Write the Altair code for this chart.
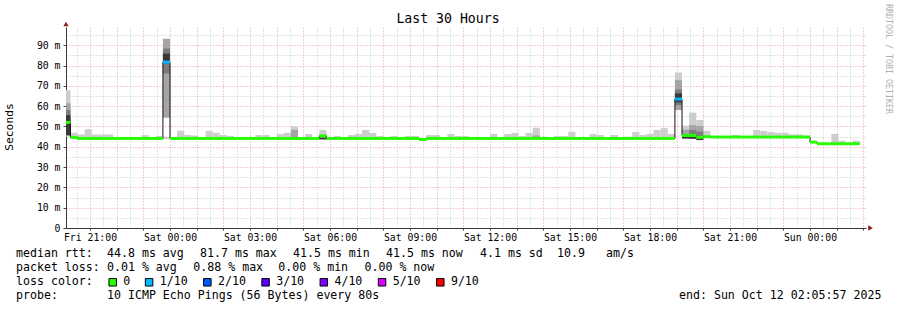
import altair as alt
import pandas as pd

MONO = "DejaVu Sans Mono"

# ---------------- data ----------------
# time axis: hours since Fri 00:00; 30 hour window ending Sun 02:05:57
VIEW_START_H = 20 + 5 / 60 + 57 / 3600
VIEW_END_H = VIEW_START_H + 30
FIRST_BIN_H = 20.0          # consolidated rows (16 min = 12 x 80 s) start Fri 20:00
BIN_H = 16 / 60

# median rtt per 16-minute row (ms)
median_ms = [
    52.0, 44.6, 44.1, 44.1, 44.1, 44.1, 44.1, 44.1, 44.1, 44.1, 44.1, 44.1, 44.1, 44.1, 81.7, 44.1,
    44.1, 44.1, 44.1, 44.1, 44.1, 44.1, 44.1, 44.1, 44.1, 44.1, 44.1, 44.1, 44.1, 44.1, 44.1, 44.1,
    44.1, 44.1, 44.1, 44.1, 45.4, 44.1, 44.1, 44.1, 44.1, 44.1, 44.1, 44.1, 44.1, 44.1, 44.1, 44.1,
    44.1, 44.1, 43.6, 44.1, 44.1, 44.1, 44.1, 44.1, 44.1, 44.1, 44.1, 44.1, 44.1, 44.1, 44.1, 44.1,
    44.1, 44.1, 44.1, 44.1, 44.1, 44.1, 44.1, 44.1, 44.1, 44.1, 44.1, 44.1, 44.1, 44.1, 44.1, 44.1,
    44.1, 44.1, 44.1, 44.1, 44.1, 44.1, 63.5, 45.6, 45.6, 44.7, 45.0, 44.8, 44.8, 44.8, 44.8, 44.8,
    44.8, 44.8, 44.8, 44.8, 44.8, 44.8, 44.8, 44.8, 44.8, 42.3, 41.5, 41.5, 41.5, 41.5, 41.5, 41.5,
]

# rows with lost pings (count out of 10)
loss_rows = [14, 86]
loss_counts = [1, 1]

# smoke bands: row, low (ms), high (ms), shade level (0 light .. 3 dark)
smoke_row = [0, 0, 0, 0, 1, 2, 3, 4, 5, 6, 11, 13, 14, 14, 14, 14, 16, 17, 18, 20, 21, 22, 23,
             27, 28, 30, 31, 32, 32, 34, 36, 36, 38, 40, 41, 42, 43, 44, 46, 48, 49, 51, 52,
             54, 55, 56, 60, 62, 63, 64, 65, 66, 66, 67, 69, 70, 71, 74, 75, 77, 79, 80, 81,
             82, 83, 84, 85, 86, 86, 86, 86, 87, 87, 87, 88, 88, 88, 88, 89, 89, 89, 89, 90,
             94, 97, 98, 99, 100, 101, 102, 103, 104, 108, 109, 111]
smoke_lo = [45.0, 45.3, 45.6, 45.8, 44.0, 43.8, 43.8, 43.8, 43.8, 43.8, 43.8, 43.8, 43.8, 54.3, 76.1, 81.0,
            43.8, 43.8, 43.8, 43.8, 43.8, 43.8, 43.8, 43.8, 43.8, 43.8, 43.8, 43.8, 43.8, 43.8, 43.8, 43.6,
            43.8, 43.8, 43.8, 43.8, 43.8, 43.8, 43.8, 43.8, 43.8, 43.8, 43.8, 43.8, 43.8, 43.8, 43.8, 43.8,
            43.8, 43.8, 43.8, 43.8, 43.8, 43.8, 43.8, 43.8, 43.8, 43.8, 43.8, 43.8, 43.8, 43.8, 43.8, 43.8,
            43.8, 43.8, 43.8, 58.1, 58.1, 60.5, 61.9, 44.3, 44.5, 44.0, 44.3, 44.5, 44.8, 43.9, 43.5, 44.0,
            44.3, 43.3, 44.3, 44.5, 44.5, 44.5, 44.5, 44.5, 44.5, 44.5, 44.5, 44.5, 41.2, 41.2, 41.2]
smoke_hi = [67.9, 61.4, 58.1, 55.6, 46.9, 46.1, 48.7, 46.1, 46.1, 46.1, 45.8, 45.3, 44.9, 93.2, 88.4, 85.9,
            47.9, 45.8, 45.5, 47.8, 46.9, 45.8, 45.3, 45.8, 45.8, 46.3, 46.9, 49.9, 48.3, 46.3, 48.3, 44.6,
            45.3, 45.8, 46.3, 48.3, 46.8, 45.3, 45.3, 45.3, 45.3, 45.8, 45.8, 46.3, 45.3, 45.3, 46.3, 46.3,
            46.8, 45.3, 46.8, 49.4, 45.6, 45.0, 45.3, 45.3, 47.4, 46.3, 45.8, 45.8, 45.0, 47.3, 45.8, 46.3,
            48.3, 49.2, 46.3, 76.6, 72.8, 68.2, 66.3, 50.4, 48.3, 45.0, 56.8, 50.7, 48.3, 45.0, 53.2, 50.2,
            47.5, 44.5, 47.9, 45.8, 48.3, 47.8, 47.3, 46.9, 46.9, 46.1, 46.1, 45.5, 46.3, 43.0, 43.0]
smoke_level = [0, 1, 2, 3, 0, 0, 0, 0, 0, 0, 0, 0, 0, 1, 2, 3,
               0, 0, 0, 0, 0, 0, 0, 0, 0, 0, 0, 0, 1, 0, 0, 3,
               0, 0, 0, 0, 0, 0, 0, 0, 0, 0, 0, 0, 0, 0, 0, 0,
               0, 0, 0, 0, 1, 0, 0, 0, 0, 0, 0, 0, 0, 0, 0, 0,
               0, 0, 0, 0, 1, 2, 3, 0, 1, 3, 0, 1, 2, 3, 0, 1,
               2, 3, 0, 0, 0, 0, 0, 0, 0, 0, 0, 0, 0, 0, 0]
smoke_shades = ["#cdcdcd", "#a4a4a4", "#7c7c7c", "#3a3a3a"]

loss_levels = [0, 1, 2, 3, 4, 5, 9]
loss_labels = ["0", "1/10", "2/10", "3/10", "4/10", "5/10", "9/10"]
loss_colors = ["#26ff00", "#00b8ff", "#0059ff", "#5e00ff", "#7e00ff", "#dd00ff", "#ff0000"]

tick_hours = [21, 24, 27, 30, 33, 36, 39, 42, 45, 48]
tick_labels = ["Fri 21:00", "Sat 00:00", "Sat 03:00", "Sat 06:00", "Sat 09:00",
               "Sat 12:00", "Sat 15:00", "Sat 18:00", "Sat 21:00", "Sun 00:00"]
y_label_values = [0, 10, 20, 30, 40, 50, 60, 70, 80, 90]
y_label_texts = ["0", "10 m", "20 m", "30 m", "40 m", "50 m", "60 m", "70 m", "80 m", "90 m"]

legend_lines = {
    "rtt": ["median rtt:", "44.8 ms avg", "81.7 ms max", "41.5 ms min", "41.5 ms now",
            "4.1 ms sd", "10.9", "am/s"],
    "loss": ["packet loss:", "0.01 % avg", "0.88 % max", "0.00 % min", "0.00 % now"],
    "probe": ["probe:", "10 ICMP Echo Pings (56 Bytes) every 80s"],
}
title_text = "Last 30 Hours"
y_title = "Seconds"
end_text = "end: Sun Oct 12 02:05:57 2025"
watermark = "RRDTOOL / TOBI OETIKER"

# ---------------- tables ----------------
n = len(median_ms)
row_start = [FIRST_BIN_H + k * BIN_H for k in range(n)]
loss_per_row = [0] * n
for r, c in zip(loss_rows, loss_counts):
    loss_per_row[r] = c

med_df = pd.DataFrame({
    "h0": row_start,
    "h1": [h + BIN_H for h in row_start],
    "med": median_ms,
    "loss": loss_per_row,
})
step_df = pd.DataFrame({
    "h": row_start + [row_start[-1] + BIN_H],
    "med": median_ms + [median_ms[-1]],
})
smoke_df = pd.DataFrame({
    "row": smoke_row, "lo": smoke_lo, "hi": smoke_hi, "lvl": smoke_level,
})
smoke_df["h0"] = [row_start[r] for r in smoke_df["row"]]
smoke_df["h1"] = smoke_df["h0"] + BIN_H
smoke_df = smoke_df.sort_values(["lvl", "row"]).reset_index(drop=True)

# ---------------- axes ----------------
x_grid = [20.5 + 0.5 * i for i in range(60)]
x_expr = "''"
for h, lab in reversed(list(zip(tick_hours, tick_labels))):
    x_expr = f"datum.value == {h} ? '{lab}' : ({x_expr})"
y_grid = [5 * i for i in range(20)]
y_expr = "''"
for v, lab in reversed(list(zip(y_label_values, y_label_texts))):
    y_expr = f"datum.value == {v} ? '{lab}' : ({y_expr})"

MAJOR = "#f09a9a"
MINOR = "#c8c8c8"

x_axis = alt.Axis(
    values=x_grid, labelExpr=x_expr, title=None, grid=True,
    gridColor={"condition": {"test": "datum.value % 1 == 0", "value": MAJOR}, "value": MINOR},
    gridDash=[1, 2], gridWidth=1,
    domainColor="#3a3a3a", domainWidth=1,
    ticks=True, tickSize=2,
    tickColor={"condition": {"test": "datum.value % 1 == 0", "value": "#444444"}, "value": "transparent"},
    labelFont=MONO, labelFontSize=9.8, labelColor="#000000", labelPadding=2,
    labelOverlap=False, labelFlush=False, labelAngle=0,
)
y_axis = alt.Axis(
    values=y_grid, labelExpr=y_expr, title=None, grid=True,
    gridColor={"condition": {"test": "datum.value % 10 == 0", "value": MAJOR}, "value": MINOR},
    gridDash=[1, 2], gridWidth=1,
    domainColor="#3a3a3a", domainWidth=1,
    ticks=True, tickSize=3,
    tickColor={"condition": {"test": "datum.value % 10 == 0", "value": "#444444"}, "value": "transparent"},
    labelFont=MONO, labelFontSize=9.8, labelColor="#000000", labelPadding=3,
    labelOverlap=False, labelFlush=False,
)
x_scale = alt.Scale(domain=[VIEW_START_H, VIEW_END_H], nice=False, zero=False)
y_scale = alt.Scale(domain=[0, 99], nice=False, zero=True)

smoke = alt.Chart(smoke_df).mark_rect(clip=True, strokeWidth=0).encode(
    x=alt.X("h0:Q", scale=x_scale, axis=x_axis),
    x2="h1:Q",
    y=alt.Y("lo:Q", scale=y_scale, axis=y_axis),
    y2="hi:Q",
    fill=alt.Fill("lvl:O", scale=alt.Scale(domain=[0, 1, 2, 3], range=smoke_shades), legend=None),
)
step = alt.Chart(step_df).mark_line(clip=True, interpolate="step-after", color="#141414",
                                    strokeWidth=1).encode(
    x=alt.X("h:Q", scale=x_scale, axis=x_axis),
    y=alt.Y("med:Q", scale=y_scale, axis=y_axis),
)
median = alt.Chart(med_df).mark_rule(clip=True, strokeWidth=3, strokeCap="butt").encode(
    x=alt.X("h0:Q", scale=x_scale, axis=x_axis),
    x2="h1:Q",
    y=alt.Y("med:Q", scale=y_scale, axis=y_axis),
    stroke=alt.Stroke("loss:O", scale=alt.Scale(domain=loss_levels, range=loss_colors), legend=None),
)

# ---------------- annotations (pixel positions relative to plot origin 66,27) ----------------
one = pd.DataFrame({"_": [0]})
OX, OY = 66, 27


def txt(text, x, y, size=11.6, align="left", angle=0, color="#000000"):
    return alt.Chart(one).mark_text(
        text=text, font=MONO, fontSize=size, align=align, baseline="middle",
        angle=angle, color=color,
    ).encode(x=alt.value(x - OX), y=alt.value(y - OY))


layers = [smoke, step, median]

# axis arrows
layers.append(alt.Chart(one).mark_point(shape="triangle-up", filled=True, size=28, color="#8b1e1e",
                                        opacity=1).encode(x=alt.value(0), y=alt.value(-3)))
layers.append(alt.Chart(one).mark_point(shape="triangle-right", filled=True, size=28, color="#8b1e1e",
                                        opacity=1).encode(x=alt.value(870.5 - OX), y=alt.value(201)))

layers.append(txt(title_text, 448, 19, size=13.2, align="center"))
layers.append(txt(y_title, 10, 127, size=11.3, align="center", angle=270))
layers.append(txt(watermark, 888, 59, size=8.3, align="center", angle=90, color="#b0b0b0"))

rtt_x = [16, 107, 200, 293, 386, 480, 557, 606]
for t, x in zip(legend_lines["rtt"], rtt_x):
    layers.append(txt(t, x, 254.3))
loss_x = [16, 107, 193.3, 278.3, 364.5]
for t, x in zip(legend_lines["loss"], loss_x):
    layers.append(txt(t, x, 268.3))
probe_x = [16, 107]
for t, x in zip(legend_lines["probe"], probe_x):
    layers.append(txt(t, x, 296))
layers.append(txt(end_text, 679, 296))

# loss colour legend
layers.append(txt("loss color:", 16, 282.3))
cw = 7.28
sx = 109.0
for lab, col in zip(loss_labels, loss_colors):
    layers.append(alt.Chart(one).mark_square(size=56, filled=True, fill=col, stroke="#000000",
                                             strokeWidth=1, opacity=1).encode(
        x=alt.value(sx + 3.7 - OX), y=alt.value(282.3 - OY)))
    layers.append(txt(lab, sx + 14.3, 282.3))
    sx += (len(lab) + 4) * cw

chart = alt.layer(*layers).properties(
    width=800, height=201,
    padding={"left": OX, "top": OY, "right": 31, "bottom": 82},
    autosize=alt.AutoSizeParams(type="none"),
    background="white",
).configure_view(stroke=None)

chart.save("out.html", embed_options={"renderer": "svg", "actions": False})
